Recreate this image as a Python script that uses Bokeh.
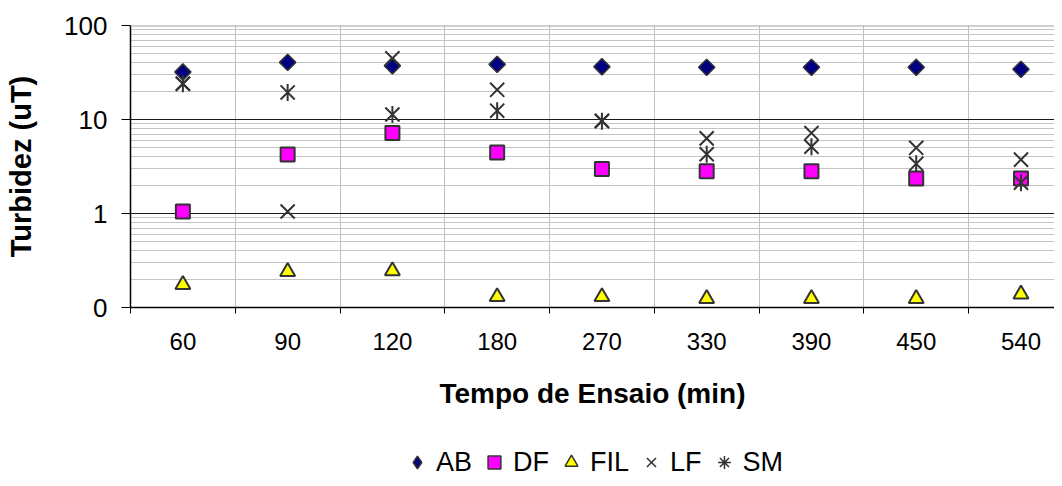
import math
from bokeh.plotting import figure
from bokeh.layouts import column
from bokeh.models import ColumnDataSource, FixedTicker, Range1d, Legend, LegendItem, Span
from bokeh.embed import file_html
from bokeh.resources import INLINE

# ---- data ----
times = ["60", "90", "120", "180", "270", "330", "390", "450", "540"]
AB = [32.0, 40.5, 37.3, 38.6, 36.4, 35.9, 35.9, 35.9, 34.2]
DF = [1.05, 4.24, 7.17, 4.46, 2.98, 2.81, 2.81, 2.36, 2.36]
FIL = [0.175, 0.24, 0.245, 0.13, 0.13, 0.124, 0.124, 0.124, 0.139]
LF = [24.0, 1.05, 44.7, 20.7, 9.7, 6.3, 7.17, 5.0, 3.74]
SM = [24.0, 19.4, 11.3, 12.4, 9.6, 4.27, 5.13, 3.38, 2.13]
series_names = ["AB", "DF", "FIL", "LF", "SM"]
y_ticks = [0.1, 1, 10, 100]
y_tick_labels = ["0", "1", "10", "100"]

FONT = "Liberation Sans"
OUT = "#333333"
x_idx = list(range(len(times)))
bounds = [i - 0.5 for i in range(len(times) + 1)]
src = ColumnDataSource(dict(x=x_idx, AB=AB, DF=DF, FIL=FIL, LF=LF, SM=SM))

p = figure(width=1054, height=446, y_axis_type="log",
           x_range=Range1d(-0.5, 8.32), y_range=Range1d(0.1, 100),
           output_backend="svg", toolbar_location=None,
           min_border_left=130, min_border_right=0,
           min_border_top=25, min_border_bottom=139)
p.outline_line_color = None
p.background_fill_color = "white"

# x axis
xa = p.xaxis[0]
xa.ticker = FixedTicker(ticks=x_idx, minor_ticks=bounds)
xa.major_label_overrides = {i: t for i, t in enumerate(times)}
xa.major_tick_line_color = None
xa.major_tick_out = 6
xa.major_tick_in = 0
xa.minor_tick_line_color = "black"
xa.minor_tick_out = 6
xa.minor_tick_in = 0
xa.axis_line_color = "black"
xa.axis_line_width = 1.5
xa.major_label_text_font = FONT
xa.major_label_text_font_size = "24px"
xa.major_label_text_color = "black"
xa.major_label_standoff = 19
xa.axis_label = "Tempo de Ensaio (min)"
xa.axis_label_text_font = FONT
xa.axis_label_text_font_size = "28px"
xa.axis_label_text_font_style = "bold"
xa.axis_label_text_color = "black"
xa.axis_label_standoff = 25

# y axis
ya = p.yaxis[0]
ya.ticker = FixedTicker(ticks=y_ticks)
ya.major_label_overrides = {v: s for v, s in zip(y_ticks, y_tick_labels)}
ya.major_tick_out = 9
ya.major_tick_in = 0
ya.major_tick_line_color = "black"
ya.minor_tick_line_color = None
ya.axis_line_color = "black"
ya.axis_line_width = 1.5
ya.major_label_text_font = FONT
ya.major_label_text_font_size = "26px"
ya.major_label_text_color = "black"
ya.major_label_standoff = 14
ya.axis_label = "Turbidez (uT)"
ya.axis_label_text_font = FONT
ya.axis_label_text_font_size = "29px"
ya.axis_label_text_font_style = "bold"
ya.axis_label_text_color = "black"
ya.axis_label_standoff = 24

# grids
minor_y = [m * d for d in (0.1, 1, 10) for m in range(2, 10)]
p.xgrid.ticker = FixedTicker(ticks=bounds)
p.xgrid.grid_line_color = "#c0c0c0"
p.xgrid.grid_line_width = 1
p.ygrid.ticker = FixedTicker(ticks=[1, 10], minor_ticks=minor_y)
p.ygrid.grid_line_color = "#1a1a1a"
p.ygrid.grid_line_width = 1
p.ygrid.minor_grid_line_color = "#c4c4c4"
p.ygrid.minor_grid_line_width = 1

p.add_layout(Span(location=100, dimension="width", line_color="#a0a0a0", line_width=2))

styles = {
    "AB": dict(marker="square", angle=math.pi / 4, size=11.5, fill_color="#000080", line_color=OUT, line_width=1.5),
    "DF": dict(marker="square", size=14, fill_color="#FF00FF", line_color=OUT, line_width=2),
    "FIL": dict(marker="triangle", size=15, fill_color="#FFFF00", line_color=OUT, line_width=2),
    "LF": dict(marker="x", size=20, line_color=OUT, line_width=2),
    "SM": dict(marker="x", size=20, line_color=OUT, line_width=2),
}
for name in series_names:
    p.scatter("x", name, source=src, **styles[name])
p.scatter("x", "SM", source=src, marker="dash", angle=math.pi / 2, size=17,
          line_color=OUT, line_width=2)

# ---- legend strip (second figure, same data, out of view) ----
q = figure(width=1054, height=32, x_range=Range1d(-100, -99), y_range=Range1d(-100, -99),
           output_backend="svg", toolbar_location=None,
           min_border_left=130, min_border_right=0, min_border_top=0, min_border_bottom=0)
q.axis.visible = False
q.grid.visible = False
q.outline_line_color = None

leg_styles = {
    "AB": dict(marker="diamond", fill_color="#000080", line_color=OUT, line_width=1.5),
    "DF": dict(marker="square", fill_color="#FF00FF", line_color=OUT, line_width=1.5),
    "FIL": dict(marker="triangle", fill_color="#FFFF00", line_color=OUT, line_width=1.5),
    "LF": dict(marker="x", line_color=OUT, line_width=1.5),
    "SM": dict(marker="asterisk", line_color=OUT, line_width=1.5),
}
items = []
for name in series_names:
    r = q.scatter("x", name, source=src, **leg_styles[name])
    items.append(LegendItem(label=name, renderers=[r]))

legend = Legend(items=items, location="center", orientation="horizontal",
                glyph_width=32, glyph_height=32, label_standoff=3, spacing=6,
                padding=0, margin=0, border_line_color=None,
                background_fill_alpha=0,
                label_text_font=FONT, label_text_font_size="27px",
                label_text_color="black")
q.add_layout(legend)

layout = column(p, q, spacing=0)
open("out.html", "w").write(file_html(layout, INLINE, "chart"))
